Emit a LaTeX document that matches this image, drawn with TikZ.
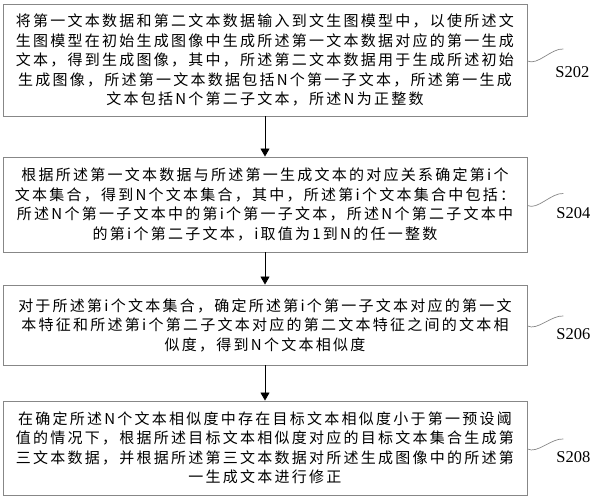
\documentclass[tikz,border=0pt]{standalone}
\usepackage{fontspec}
\setmainfont{Liberation Serif}
\newfontfamily\cjk[LetterSpace=15]{Noto Sans CJK SC}
\usetikzlibrary{arrows.meta,positioning,calc}
\tikzset{every node/.append style={align=center}}
\definecolor{boxgray}{RGB}{135,135,135}

\begin{document}
\begin{tikzpicture}[
    x=1pt, y=1pt,
    stepbox/.style={draw=boxgray, line width=0.9pt, minimum width=524pt, inner sep=0pt, font=\cjk\fontsize{15}{19.5}\selectfont},
    flow/.style={draw=black, line width=0.8pt, -{Triangle[length=8pt,width=9pt]}},
    wave/.style={draw=boxgray, line width=0.7pt},
    steplabel/.style={font=\fontsize{16.5}{19}\selectfont, inner sep=0pt}
]
    \useasboundingbox (0,0) rectangle (590,-500);

    % Step S202
    \node[stepbox, minimum height=112pt] (s202) at (265,-60) {
        将第一文本数据和第二文本数据输入到文生图模型中，以使所述文\\
        生图模型在初始生成图像中生成所述第一文本数据对应的第一生成\\
        文本，得到生成图像，其中，所述第二文本数据用于生成所述初始\\
        生成图像，所述第一文本数据包括N个第一子文本，所述第一生成\\
        文本包括N个第二子文本，所述N为正整数
    };

    % Step S204
    \node[stepbox, minimum height=95pt] (s204) at (265,-204.5) {
        根据所述第一文本数据与所述第一生成文本的对应关系确定第i个\\
        文本集合，得到N个文本集合，其中，所述第i个文本集合中包括：\\
        所述N个第一子文本中的第i个第一子文本，所述N个第二子文本中\\
        的第i个第二子文本，i取值为1到N的任一整数
    };

    % Step S206
    \node[stepbox, minimum height=80pt] (s206) at (265,-325) {
        对于所述第i个文本集合，确定所述第i个第一子文本对应的第一文\\
        本特征和所述第i个第二子文本对应的第二文本特征之间的文本相\\
        似度，得到N个文本相似度
    };

    % Step S208
    \node[stepbox, minimum height=94pt] (s208) at (265,-448) {
        在确定所述N个文本相似度中存在目标文本相似度小于第一预设阈\\
        值的情况下，根据所述目标文本相似度对应的目标文本集合生成第\\
        三文本数据，并根据所述第三文本数据对所述生成图像中的所述第\\
        一生成文本进行修正
    };

    % Flow arrows
    \draw[flow] (s202.south) -- (s204.north);
    \draw[flow] (s204.south) -- (s206.north);
    \draw[flow] (s206.south) -- (s208.north);

    % Step labels with wavy leaders
    \coordinate (w202) at ($(s202.east)+(0,-1)$);
    \draw[wave] (w202) .. controls ($(w202)+(10,-5)$) and ($(w202)+(24,13)$) .. ($(w202)+(36,12)$);
    \node[steplabel] (l202) at ($(s202.east)+(45,-12)$) {S202};

    \coordinate (w204) at ($(s204.east)+(0,-1)$);
    \draw[wave] (w204) .. controls ($(w204)+(10,-5)$) and ($(w204)+(24,13)$) .. ($(w204)+(36,12)$);
    \node[steplabel] (l204) at ($(s204.east)+(46,-8.5)$) {S204};

    \coordinate (w206) at ($(s206.east)+(0,-1)$);
    \draw[wave] (w206) .. controls ($(w206)+(10,-5)$) and ($(w206)+(24,11)$) .. ($(w206)+(36,10)$);
    \node[steplabel] (l206) at ($(s206.east)+(46,-9)$) {S206};

    \coordinate (w208) at ($(s208.east)+(0,-1)$);
    \draw[wave] (w208) .. controls ($(w208)+(10,-5)$) and ($(w208)+(24,11)$) .. ($(w208)+(36,10)$);
    \node[steplabel] (l208) at ($(s208.east)+(46,-9)$) {S208};

\end{tikzpicture}
\end{document}
